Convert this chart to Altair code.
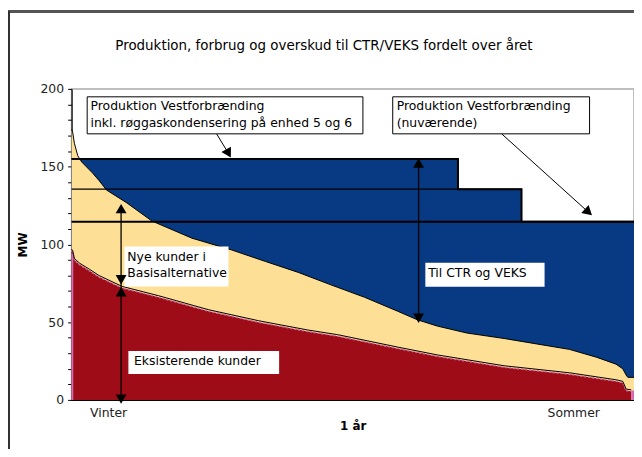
import altair as alt
import pandas as pd

FONT = "DejaVu Sans"
title_text = "Produktion, forbrug og overskud til CTR/VEKS fordelt over året"

# x = fraction of the year (sorted load duration), values in MW
total_x = [0, 0.002, 0.005, 0.011, 0.018, 0.037, 0.049, 0.062, 0.097, 0.143, 0.214,
           0.284, 0.345, 0.403, 0.461, 0.521, 0.580, 0.615, 0.650, 0.703, 0.769,
           0.827, 0.885, 0.933, 0.968, 0.980, 0.986, 0.989, 1.0]
total_mw = [174, 172, 165, 157, 153, 146, 141, 135, 127, 115, 104,
            96.5, 89, 82, 74, 66, 57, 51.5, 47.5, 43, 39.5,
            36, 32.5, 27.5, 23, 20, 16, 14.5, 14.5]

exist_x = [0, 0.002, 0.005, 0.014, 0.032, 0.049, 0.090, 0.155, 0.244, 0.332, 0.420,
           0.473, 0.580, 0.650, 0.769, 0.885, 0.968, 0.980, 0.986, 0.995]
exist_mw = [96, 95, 90, 87, 83, 79, 72, 66, 57, 50, 44,
            41, 33, 28, 21, 16.5, 12, 11, 6, 5.5]

# production capacity (step)
prod_x = [0, 0.687, 0.800, 1.0]
prod_mw = [155, 135.5, 114.5, 114.5]
level_mw = [155, 135.5, 114.5]
level_end = [0.687, 0.800, 1.0]
level_w = [2, 1.2, 2]

# small pink strips
pink_x = [0, 0.995]
pink_x2 = [0.003, 1.0]
pink_top = [94, 6]

# arrows
arrow_x1 = [0.258, 0.765, 0.617, 0.088]
arrow_y1 = [171, 171, 152.3, 123]
arrow_x2 = [0.279, 0.919, 0.617, 0.088]
arrow_y2 = [158.5, 120.7, 52.5, 0.5]
arrow_w = [1, 1, 1.3, 1.3]

head_x = [0.279, 0.919, 0.617, 0.617, 0.088, 0.088, 0.088, 0.088]
head_y = [158.5, 120.7, 152.3, 52.5, 123, 77.3, 69.6, 0.5]
head_shape = ["triangle-down", "triangle-down", "triangle-up", "triangle-down",
              "triangle-up", "triangle-down", "triangle-up", "triangle-down"]
head_angle = [331, 312, 0, 0, 0, 0, 0, 0]

# annotation boxes
fbox_x = [0.0277, 0.571]
fbox_x2 = [0.518, 0.921]
fbox_y = [194.9, 194.9]
fbox_y2 = [171.1, 171.1]
pbox_x = [0.094, 0.629, 0.101]
pbox_x2 = [0.279, 0.841, 0.369]
pbox_y = [98.6, 88.2, 31.5]
pbox_y2 = [73.0, 72.8, 16.6]

text_x = [0.0336, 0.0336, 0.578, 0.578, 0.099, 0.099, 0.634, 0.111]
text_y = [189.1, 178.3, 189.1, 178.3, 92.2, 81.6, 81.6, 24.7]
text_s = ["Produktion Vestforbrænding", "inkl. røggaskondensering på enhed 5 og 6",
          "Produktion Vestforbrænding", "(nuværende)",
          "Nye kunder i", "Basisalternative", "Til CTR og VEKS", "Eksisterende kunder"]

x_ticks = [0.065, 0.892]

RED = "#9E0C17"
YELLOW = "#FDE095"
BLUE = "#073A82"
PINK = "#D46CB4"
FS = 12.5

xs = alt.Scale(domain=[0, 1], nice=False, zero=False)
ys = alt.Scale(domain=[0, 200], nice=False)
xaxis = alt.Axis(title="1 år", values=x_ticks, ticks=False, grid=False,
                 labelExpr="datum.value < 0.5 ? 'Vinter' : 'Sommer'",
                 labelPadding=7, titlePadding=1, domainColor="black", domainWidth=1.2,
                 labelFont=FONT, labelFontSize=FS, labelColor="#222",
                 titleFont=FONT, titleFontSize=12, titleFontWeight="bold", titleColor="black")
yaxis = alt.Axis(title="MW", values=list(range(0, 201, 10)), grid=False,
                 labelExpr="datum.value % 50 === 0 ? datum.label : ''",
                 tickSize=4, tickColor="black", domainColor="black", domainWidth=1.2,
                 labelPadding=4, titlePadding=11,
                 labelFont=FONT, labelFontSize=FS, labelColor="#222",
                 titleFont=FONT, titleFontSize=12, titleFontWeight="bold", titleColor="black")

X = alt.X("x:Q", scale=xs, axis=xaxis)
Y = alt.Y("y:Q", scale=ys, axis=yaxis)
X2 = alt.X2("x2:Q")
Y2 = alt.Y2("y2:Q")

total_df = pd.DataFrame({"x": total_x, "y": total_mw})
exist_df = pd.DataFrame({"x": exist_x, "y": exist_mw})
prod_df = pd.DataFrame({"x": prod_x, "y": prod_mw})
level_df = pd.DataFrame({"x": [0] * 3, "x2": level_end, "y": level_mw, "w": level_w})
pink_df = pd.DataFrame({"x": pink_x, "x2": pink_x2, "y": [0, 0], "y2": pink_top})
arrow_df = pd.DataFrame({"x": arrow_x1, "y": arrow_y1, "x2": arrow_x2, "y2": arrow_y2, "w": arrow_w})
head_df = pd.DataFrame({"x": head_x, "y": head_y, "shape": head_shape, "angle": head_angle})
fbox_df = pd.DataFrame({"x": fbox_x, "x2": fbox_x2, "y": fbox_y, "y2": fbox_y2})
pbox_df = pd.DataFrame({"x": pbox_x, "x2": pbox_x2, "y": pbox_y, "y2": pbox_y2})
text_df = pd.DataFrame({"x": text_x, "y": text_y, "t": text_s})
title_df = pd.DataFrame({"t": [title_text]})

blue = alt.Chart(prod_df).mark_area(interpolate="step-after", color=BLUE).encode(x=X, y=Y)
yellow = alt.Chart(total_df).mark_area(color=YELLOW).encode(x=X, y=Y)
pink = alt.Chart(pink_df).mark_rect(color=PINK).encode(x=X, x2=X2, y=Y, y2=Y2)
red = alt.Chart(exist_df).mark_area(color=RED).encode(x=X, y=Y)
total_line = alt.Chart(total_df).mark_line(color="black", strokeWidth=1).encode(x=X, y=Y)
pink_line = alt.Chart(exist_df).mark_line(color=PINK, strokeWidth=1.5, strokeDash=[2, 2]).encode(x=X, y=Y)
exist_line = alt.Chart(exist_df).mark_line(color="black", strokeWidth=1, yOffset=-1.5).encode(x=X, y=Y)
levels = alt.Chart(level_df).mark_rule(color="black").encode(
    x=X, x2=X2, y=Y, strokeWidth=alt.StrokeWidth("w:Q", scale=None))
prod_line = alt.Chart(prod_df).mark_line(interpolate="step-after", color="black", strokeWidth=2).encode(x=X, y=Y)
fboxes = alt.Chart(fbox_df).mark_rect(fill="white", stroke="black", strokeWidth=1).encode(
    x=X, x2=X2, y=Y, y2=Y2)
pboxes = alt.Chart(pbox_df).mark_rect(fill="white").encode(x=X, x2=X2, y=Y, y2=Y2)
arrows = alt.Chart(arrow_df).mark_rule(color="black").encode(
    x=X, x2=X2, y=Y, y2=Y2, strokeWidth=alt.StrokeWidth("w:Q", scale=None))
heads = alt.Chart(head_df).mark_point(filled=True, color="black", size=120, opacity=1).encode(
    x=X, y=Y, shape=alt.Shape("shape:N", scale=None), angle=alt.Angle("angle:Q", scale=None))
texts = alt.Chart(text_df).mark_text(align="left", baseline="middle", font=FONT,
                                     fontSize=FS, color="black").encode(x=X, y=Y, text="t:N")

# chart title and outer frame (decoration outside the plot area)
title = alt.Chart(title_df).mark_text(align="center", baseline="middle", font=FONT,
                                      fontSize=13.5, color="black").encode(
    x=alt.value(254), y=alt.value(-43), text="t:N")
frame_top = alt.Chart(total_df).mark_rule(color="#555", strokeWidth=1.5).encode(
    x=alt.value(-72), x2=alt.value(570), y=alt.value(-78))
frame_left = alt.Chart(total_df).mark_rule(color="#333", strokeWidth=1.5).encode(
    x=alt.value(-63), y=alt.value(-78), y2=alt.value(380))

chart = alt.layer(
    blue, yellow, red, pink, pink_line, total_line, exist_line, levels, prod_line,
    pboxes, fboxes, arrows, heads, texts, title, frame_top, frame_left
).properties(
    width=566, height=313,
    autosize=alt.AutoSizeParams(type="none"),
    padding={"left": 64, "top": 80, "right": 0, "bottom": 48},
).configure_view(stroke="#aaa", strokeWidth=1.5)

chart.save("out.html", embed_options={"renderer": "svg", "actions": False})
